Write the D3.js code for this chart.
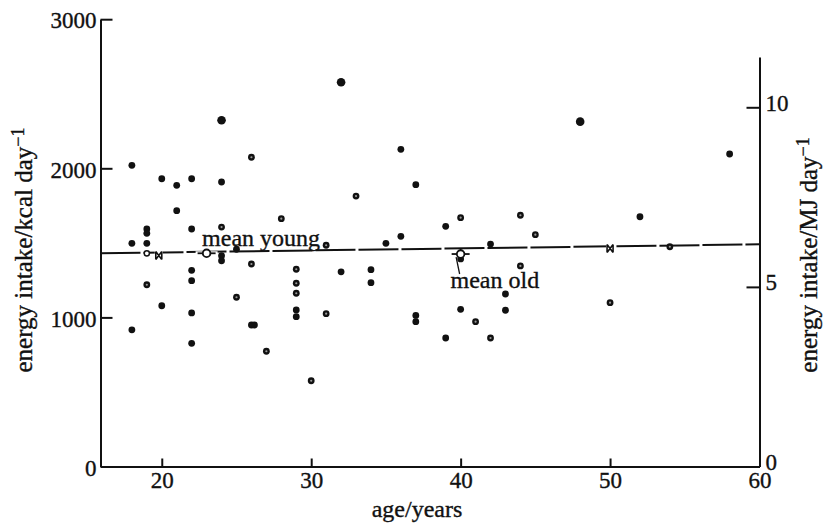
<!DOCTYPE html>
<html><head><meta charset="utf-8">
<script src="https://cdn.jsdelivr.net/npm/d3@7"></script>
<style>
html,body{margin:0;padding:0;background:#fff;}
svg{display:block;}
text{font-family:"Liberation Serif","Times New Roman",serif;fill:#111;stroke:#111;stroke-width:0.35px;}
</style></head>
<body>
<svg id="chart" width="826" height="524"></svg>
<script>
// ---- data ----
const ages = [18,24,26,20,21,22,24,21,28,22,24,19,19,18,19,25,24,24,32,36,33,37,39,40,44,45,36,35,31,42,48,58,52,54,40,26,22,22,19,29,29,29,29,29,25,20,22,18,26,26.2,22,27,30,32,34,34,44,43,43,40,41,31,37,37,39,42,50];
const kcal = [2020,2322,2074,1930,1886,1930,1908,1716,1662,1593,1606,1593,1564,1497,1497,1457,1414,1380,2577,2127,1814,1890,1611,1669,1685,1555,1544,1497,1484,1492,2313,2096,1675,1474,1392,1358,1316,1246,1219,1323,1229,1162,1050,1005,1135,1078,1030,917,949,949,826,773,575,1306,1320,1233,1345,1157,1048,1054,971,1025,1013,971,862,862,1099];
const bigDots = [1,18,30];                                   // slightly larger dots
const ringDots = [2,8,20,23,24,25,28,33,66,10,35,52,51,38,44,56,60,65,39,40,41,61]; // dots with a pale centre
const lineAges = [15.9, 60];         // fitted line
const lineKcal = [1430, 1490];
const crossAges = [19.8, 50];        // 'x' marks on the line
const crossKcal = [1415, 1462];
const smallOpenAges = [19];
const smallOpenKcal = [1430];
const meanNames = ["mean young", "mean old"];
const meanAges = [23, 40];
const meanKcal = [1430, 1425];
const xTicks = [20,30,40,50,60];
const yTicksL = [0,1000,2000,3000];
const yTicksR = [0,5,10];

const svg = d3.select("#chart");
const x = d3.scaleLinear().domain([15.9, 60]).range([100.5, 759.5]);
const y = d3.scaleLinear().domain([0, 3000]).range([466.5, 19.2]);
const yR = d3.scaleLinear().domain([0, 11.4]).range([466.5, 57]);
const fmt = d3.format("d");

function styleAxis(g){
  g.selectAll("path.domain").attr("stroke","#111").attr("stroke-width",2);
  g.selectAll(".tick line").attr("stroke","#111").attr("stroke-width",2);
  g.selectAll(".tick text").style("font-family",'"Liberation Serif",serif').style("font-size","23px").attr("fill","#111");
}

svg.append("g").attr("transform","translate(0,466.5)")
  .call(d3.axisBottom(x).tickValues(xTicks).tickFormat(fmt).tickSizeInner(-8).tickSizeOuter(0).tickPadding(5))
  .call(styleAxis)
  .call(g=>g.selectAll(".tick text").attr("dy","0.72em"));

svg.append("g").attr("transform","translate(100.5,0)")
  .call(d3.axisLeft(y).tickValues(yTicksL).tickFormat(fmt).tickSizeInner(-12).tickSizeOuter(0).tickPadding(4))
  .call(styleAxis)
  .call(g=>g.selectAll(".tick text").attr("dy","0.38em"));

svg.append("g").attr("transform","translate(759.5,0)")
  .call(d3.axisRight(yR).tickValues(yTicksR).tickFormat(fmt).tickSizeInner(-13).tickSizeOuter(0).tickPadding(6))
  .call(styleAxis)
  .call(g=>g.selectAll(".tick text").attr("dy","0.12em"));

// fitted line
svg.append("line")
  .attr("x1", x(lineAges[0])).attr("y1", y(lineKcal[0]))
  .attr("x2", x(lineAges[1])).attr("y2", y(lineKcal[1]))
  .attr("stroke","#111").attr("stroke-width",2).attr("stroke-dasharray","40,3");

// data points
const pts = svg.append("g");
pts.selectAll("circle.dot").data(ages).join("circle").attr("class","dot")
  .attr("cx",(d,i)=>x(d)).attr("cy",(d,i)=>y(kcal[i]))
  .attr("r",(d,i)=>bigDots.includes(i)?4.3:3.4)
  .attr("fill","#111");
pts.selectAll("circle.ring").data(ringDots).join("circle").attr("class","ring")
  .attr("cx",i=>x(ages[i])).attr("cy",i=>y(kcal[i])).attr("r",1.1)
  .attr("fill","#999");

// cross marks on line
crossAges.forEach((a,i)=>{
  const cx=x(a), cy=y(crossKcal[i]);
  svg.append("rect").attr("x",cx-4).attr("y",cy-5).attr("width",8).attr("height",10).attr("fill","#fff");
  svg.append("path").attr("d",`M${cx-3},${cy-4}L${cx+3},${cy+4}M${cx+3},${cy-4}L${cx-3},${cy+4}M${cx-3},${cy-4}V${cy+4}M${cx+3},${cy-4}V${cy+4}`)
    .attr("stroke","#111").attr("stroke-width",1.6).attr("fill","none");
});
// small open circle
svg.append("g").selectAll("circle").data(smallOpenAges).join("circle")
  .attr("cx",d=>x(d)).attr("cy",(d,i)=>y(smallOpenKcal[i])).attr("r",2.6)
  .attr("fill","#fff").attr("stroke","#111").attr("stroke-width",1.5);

// means
meanAges.forEach((a,i)=>{
  const cx=x(a), cy=y(meanKcal[i]);
  const g=svg.append("g");
  g.append("rect").attr("x",cx-11).attr("y",cy-2).attr("width",22).attr("height",4).attr("fill","#fff");
  g.append("line").attr("x1",cx-9).attr("x2",cx+9).attr("y1",cy).attr("y2",cy).attr("stroke","#111").attr("stroke-width",1.8);
  if(i===1) g.append("line").attr("x1",cx).attr("x2",cx).attr("y1",cy-6).attr("y2",cy+6).attr("stroke","#111").attr("stroke-width",1.6);
  g.append("circle").attr("cx",cx).attr("cy",cy).attr("r",3.8).attr("fill","#fff").attr("stroke","#111").attr("stroke-width",1.8);
});

// annotations
svg.append("text").attr("x",x(meanAges[0])-4.5).attr("y",245.5).style("font-size","24px").text(meanNames[0]);
svg.append("text").attr("x",450.5).attr("y",287.5).style("font-size","24px").text(meanNames[1]);
svg.append("line").attr("x1",x(meanAges[1])-4.5).attr("y1",y(meanKcal[1])+3).attr("x2",x(meanAges[1])-1).attr("y2",274)
  .attr("stroke","#111").attr("stroke-width",1.3);

// axis titles
svg.append("text").attr("x",(100.5+759.5)/2 - 13).attr("y",517).attr("text-anchor","middle").style("font-size","24px").text("age/years");

function yTitle(xpos, ypos, unit){
  const t = svg.append("text").attr("transform",`translate(${xpos},${ypos}) rotate(-90)`)
    .attr("text-anchor","middle").style("font-size","25px");
  t.append("tspan").text("energy intake/" + unit + " day");
  t.append("tspan").attr("dy","-0.45em").style("font-size","18px").text("\u22121");
}
yTitle(32, 250, "kcal");
yTitle(817, 255, "MJ");
</script>
</body></html>
